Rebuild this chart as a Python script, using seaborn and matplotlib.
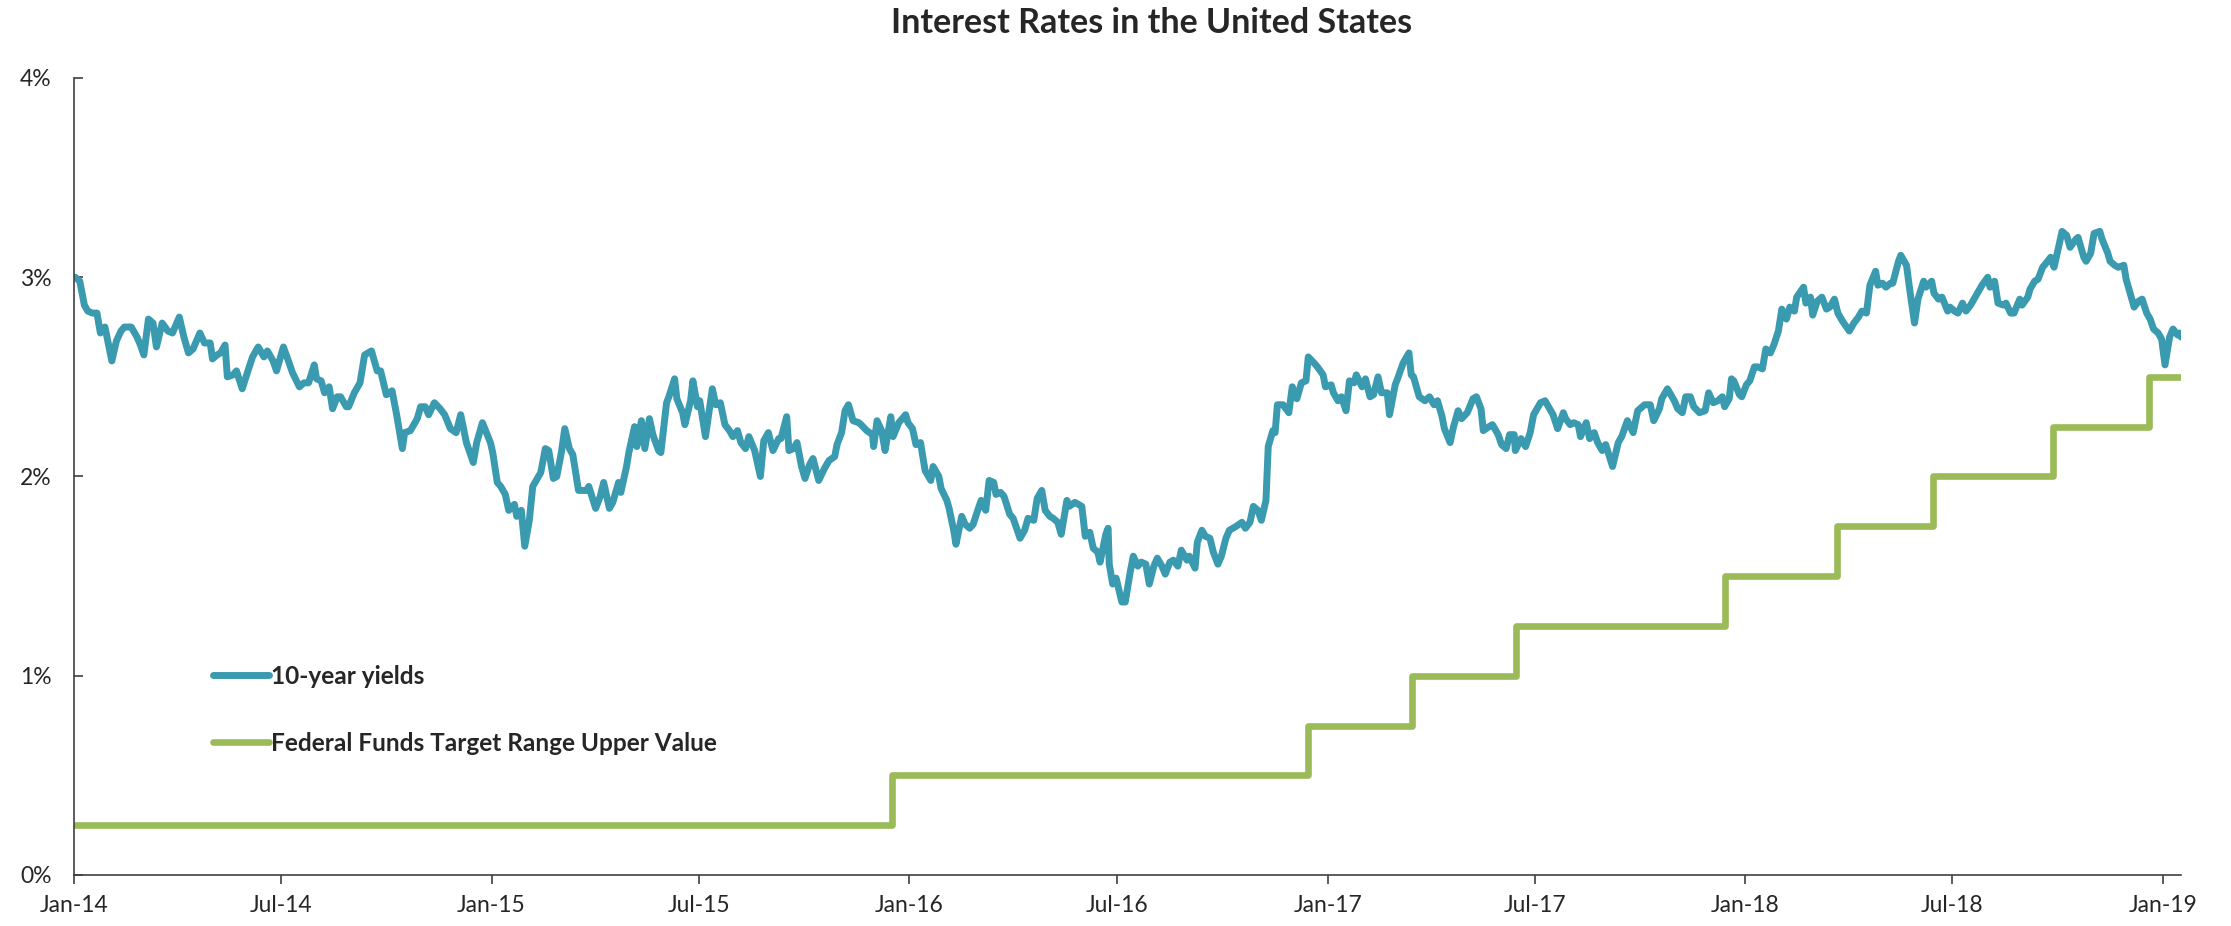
import pandas as pd
import matplotlib
matplotlib.use("Agg")
import matplotlib.pyplot as plt
import matplotlib.dates as mdates
from matplotlib.ticker import FuncFormatter
import seaborn as sns

# 10-year Treasury yield (%)
dates_2014 = ["2014-01-02", "2014-01-06", "2014-01-10", "2014-01-13", "2014-01-17", "2014-01-21", "2014-01-24", "2014-01-28",
              "2014-02-03", "2014-02-07", "2014-02-11", "2014-02-14", "2014-02-20", "2014-02-25", "2014-02-28", "2014-03-03",
              "2014-03-07", "2014-03-11", "2014-03-14", "2014-03-19", "2014-03-24", "2014-03-28", "2014-04-03", "2014-04-07",
              "2014-04-11", "2014-04-15", "2014-04-21", "2014-04-25", "2014-04-30", "2014-05-02", "2014-05-06", "2014-05-09",
              "2014-05-13", "2014-05-15", "2014-05-20", "2014-05-23", "2014-05-28", "2014-06-02", "2014-06-06", "2014-06-11",
              "2014-06-16", "2014-06-19", "2014-06-24", "2014-06-27", "2014-07-03", "2014-07-08", "2014-07-11", "2014-07-17",
              "2014-07-21", "2014-07-25", "2014-07-30", "2014-08-01", "2014-08-05", "2014-08-08", "2014-08-12", "2014-08-15",
              "2014-08-19", "2014-08-22", "2014-08-27", "2014-08-29", "2014-09-03", "2014-09-08", "2014-09-12", "2014-09-18",
              "2014-09-23", "2014-09-26", "2014-10-01", "2014-10-06", "2014-10-10", "2014-10-15", "2014-10-17", "2014-10-22",
              "2014-10-28", "2014-10-31", "2014-11-04", "2014-11-07", "2014-11-12", "2014-11-17", "2014-11-21", "2014-11-26",
              "2014-12-01", "2014-12-05", "2014-12-10", "2014-12-16", "2014-12-19", "2014-12-24", "2014-12-31"]
values_2014 = [3.00, 2.98, 2.86, 2.83, 2.82, 2.82, 2.72, 2.75,
               2.58, 2.68, 2.73, 2.75, 2.75, 2.70, 2.66, 2.61,
               2.79, 2.77, 2.65, 2.77, 2.73, 2.72, 2.80, 2.70,
               2.62, 2.64, 2.72, 2.67, 2.67, 2.59, 2.61, 2.62,
               2.66, 2.50, 2.51, 2.53, 2.44, 2.53, 2.60, 2.65,
               2.60, 2.63, 2.58, 2.53, 2.65, 2.57, 2.52, 2.45,
               2.47, 2.47, 2.56, 2.49, 2.48, 2.42, 2.45, 2.34,
               2.40, 2.40, 2.35, 2.35, 2.42, 2.47, 2.61, 2.63,
               2.53, 2.53, 2.41, 2.43, 2.31, 2.14, 2.22, 2.23,
               2.29, 2.35, 2.35, 2.31, 2.37, 2.34, 2.31, 2.24,
               2.22, 2.31, 2.17, 2.07, 2.17, 2.27, 2.17]

dates_2015 = ["2015-01-02", "2015-01-06", "2015-01-09", "2015-01-13", "2015-01-16", "2015-01-21", "2015-01-23", "2015-01-27",
              "2015-01-30", "2015-02-03", "2015-02-06", "2015-02-10", "2015-02-13", "2015-02-17", "2015-02-20", "2015-02-24",
              "2015-02-27", "2015-03-03", "2015-03-06", "2015-03-10", "2015-03-13", "2015-03-18", "2015-03-20", "2015-03-25",
              "2015-03-27", "2015-04-02", "2015-04-06", "2015-04-09", "2015-04-14", "2015-04-17", "2015-04-22", "2015-04-24",
              "2015-04-29", "2015-05-01", "2015-05-06", "2015-05-08", "2015-05-12", "2015-05-15", "2015-05-19", "2015-05-22",
              "2015-05-27", "2015-05-29", "2015-06-03", "2015-06-05", "2015-06-10", "2015-06-12", "2015-06-17", "2015-06-19",
              "2015-06-24", "2015-06-26", "2015-06-30", "2015-07-02", "2015-07-07", "2015-07-13", "2015-07-16", "2015-07-20",
              "2015-07-24", "2015-07-28", "2015-07-31", "2015-08-04", "2015-08-07", "2015-08-11", "2015-08-14", "2015-08-19",
              "2015-08-24", "2015-08-27", "2015-08-31", "2015-09-04", "2015-09-09", "2015-09-11", "2015-09-16", "2015-09-18",
              "2015-09-22", "2015-09-25", "2015-09-29", "2015-10-02", "2015-10-06", "2015-10-09", "2015-10-14", "2015-10-19",
              "2015-10-23", "2015-10-28", "2015-10-30", "2015-11-03", "2015-11-06", "2015-11-09", "2015-11-13", "2015-11-18",
              "2015-11-20", "2015-11-25", "2015-11-30", "2015-12-01", "2015-12-04", "2015-12-08", "2015-12-11", "2015-12-16",
              "2015-12-18", "2015-12-23", "2015-12-29", "2015-12-31"]
values_2015 = [2.12, 1.97, 1.95, 1.91, 1.83, 1.86, 1.80, 1.83,
               1.65, 1.78, 1.95, 1.99, 2.02, 2.14, 2.13, 1.99,
               2.00, 2.12, 2.24, 2.14, 2.11, 1.93, 1.93, 1.93,
               1.95, 1.84, 1.90, 1.97, 1.84, 1.87, 1.97, 1.92,
               2.05, 2.12, 2.25, 2.15, 2.28, 2.14, 2.29, 2.21,
               2.13, 2.12, 2.37, 2.40, 2.49, 2.39, 2.32, 2.26,
               2.38, 2.48, 2.35, 2.38, 2.20, 2.44, 2.36, 2.37,
               2.26, 2.23, 2.20, 2.23, 2.17, 2.14, 2.20, 2.13,
               2.00, 2.18, 2.22, 2.13, 2.19, 2.19, 2.30, 2.13,
               2.14, 2.17, 2.05, 1.99, 2.06, 2.09, 1.98, 2.04,
               2.08, 2.10, 2.16, 2.22, 2.33, 2.36, 2.28, 2.27,
               2.26, 2.23, 2.21, 2.15, 2.28, 2.23, 2.13, 2.30,
               2.20, 2.27, 2.31, 2.27]

dates_2016 = ["2016-01-04", "2016-01-07", "2016-01-11", "2016-01-15", "2016-01-20", "2016-01-22", "2016-01-27", "2016-01-29",
              "2016-02-03", "2016-02-05", "2016-02-09", "2016-02-11", "2016-02-16", "2016-02-19", "2016-02-23", "2016-02-26",
              "2016-03-01", "2016-03-04", "2016-03-08", "2016-03-11", "2016-03-15", "2016-03-17", "2016-03-21", "2016-03-24",
              "2016-03-29", "2016-04-01", "2016-04-07", "2016-04-11", "2016-04-14", "2016-04-19", "2016-04-22", "2016-04-26",
              "2016-04-29", "2016-05-03", "2016-05-06", "2016-05-10", "2016-05-13", "2016-05-18", "2016-05-20", "2016-05-25",
              "2016-05-31", "2016-06-03", "2016-06-07", "2016-06-10", "2016-06-14", "2016-06-16", "2016-06-21", "2016-06-23",
              "2016-06-24", "2016-06-27", "2016-06-30", "2016-07-05", "2016-07-08", "2016-07-12", "2016-07-15", "2016-07-19",
              "2016-07-22", "2016-07-26", "2016-07-29", "2016-08-02", "2016-08-05", "2016-08-09", "2016-08-12", "2016-08-16",
              "2016-08-19", "2016-08-23", "2016-08-26", "2016-08-31", "2016-09-02", "2016-09-07", "2016-09-09", "2016-09-13",
              "2016-09-16", "2016-09-20", "2016-09-23", "2016-09-27", "2016-09-30", "2016-10-04", "2016-10-07", "2016-10-13",
              "2016-10-18", "2016-10-21", "2016-10-25", "2016-10-28", "2016-11-01", "2016-11-04", "2016-11-08", "2016-11-10",
              "2016-11-14", "2016-11-16", "2016-11-18", "2016-11-23", "2016-11-28", "2016-12-01", "2016-12-05", "2016-12-09",
              "2016-12-13", "2016-12-15", "2016-12-20", "2016-12-23", "2016-12-28", "2016-12-30"]
values_2016 = [2.24, 2.16, 2.17, 2.03, 1.98, 2.05, 2.00, 1.94,
               1.88, 1.84, 1.73, 1.66, 1.80, 1.76, 1.74, 1.76,
               1.83, 1.88, 1.83, 1.98, 1.97, 1.91, 1.92, 1.90,
               1.81, 1.79, 1.69, 1.73, 1.79, 1.78, 1.89, 1.93,
               1.83, 1.80, 1.79, 1.77, 1.71, 1.88, 1.85, 1.87,
               1.85, 1.70, 1.72, 1.64, 1.62, 1.57, 1.71, 1.74,
               1.56, 1.46, 1.49, 1.37, 1.37, 1.51, 1.60, 1.55,
               1.57, 1.56, 1.46, 1.55, 1.59, 1.55, 1.51, 1.57,
               1.58, 1.55, 1.63, 1.58, 1.60, 1.54, 1.67, 1.73,
               1.70, 1.69, 1.62, 1.56, 1.60, 1.69, 1.73, 1.75,
               1.77, 1.74, 1.77, 1.85, 1.83, 1.78, 1.88, 2.15,
               2.23, 2.22, 2.36, 2.36, 2.32, 2.45, 2.39, 2.47,
               2.48, 2.60, 2.57, 2.55, 2.51, 2.45]

dates_2017 = ["2017-01-04", "2017-01-06", "2017-01-10", "2017-01-13", "2017-01-17", "2017-01-20", "2017-01-24", "2017-01-26",
              "2017-01-31", "2017-02-03", "2017-02-07", "2017-02-10", "2017-02-14", "2017-02-17", "2017-02-22", "2017-02-24",
              "2017-03-01", "2017-03-03", "2017-03-08", "2017-03-13", "2017-03-15", "2017-03-17", "2017-03-22", "2017-03-27",
              "2017-03-31", "2017-04-04", "2017-04-07", "2017-04-11", "2017-04-13", "2017-04-18", "2017-04-21", "2017-04-25",
              "2017-04-28", "2017-05-03", "2017-05-08", "2017-05-11", "2017-05-15", "2017-05-17", "2017-05-22", "2017-05-25",
              "2017-05-30", "2017-06-02", "2017-06-06", "2017-06-09", "2017-06-13", "2017-06-14", "2017-06-19", "2017-06-23",
              "2017-06-27", "2017-06-30", "2017-07-06", "2017-07-10", "2017-07-13", "2017-07-17", "2017-07-21", "2017-07-26",
              "2017-07-28", "2017-08-01", "2017-08-04", "2017-08-08", "2017-08-10", "2017-08-15", "2017-08-18", "2017-08-22",
              "2017-08-25", "2017-08-29", "2017-09-01", "2017-09-07", "2017-09-12", "2017-09-15", "2017-09-20", "2017-09-25",
              "2017-09-29", "2017-10-05", "2017-10-10", "2017-10-13", "2017-10-18", "2017-10-20", "2017-10-25", "2017-10-27",
              "2017-10-31", "2017-11-03", "2017-11-07", "2017-11-10", "2017-11-14", "2017-11-17", "2017-11-22", "2017-11-27",
              "2017-11-30", "2017-12-04", "2017-12-08", "2017-12-12", "2017-12-14", "2017-12-18", "2017-12-20", "2017-12-22",
              "2017-12-27", "2017-12-29"]
values_2017 = [2.46, 2.42, 2.38, 2.40, 2.33, 2.48, 2.47, 2.51,
               2.45, 2.49, 2.40, 2.41, 2.50, 2.42, 2.42, 2.31,
               2.46, 2.49, 2.57, 2.62, 2.51, 2.50, 2.40, 2.38,
               2.40, 2.36, 2.38, 2.30, 2.24, 2.17, 2.25, 2.33,
               2.29, 2.32, 2.39, 2.40, 2.34, 2.23, 2.25, 2.26,
               2.21, 2.16, 2.14, 2.21, 2.21, 2.13, 2.19, 2.15,
               2.22, 2.31, 2.37, 2.38, 2.35, 2.31, 2.24, 2.32,
               2.29, 2.26, 2.27, 2.26, 2.20, 2.27, 2.19, 2.22,
               2.17, 2.13, 2.16, 2.05, 2.17, 2.20, 2.28, 2.22,
               2.33, 2.36, 2.36, 2.28, 2.34, 2.39, 2.44, 2.42,
               2.38, 2.34, 2.32, 2.40, 2.40, 2.35, 2.32, 2.33,
               2.42, 2.37, 2.38, 2.40, 2.35, 2.39, 2.49, 2.48,
               2.41, 2.40]

dates_2018 = ["2018-01-02", "2018-01-05", "2018-01-09", "2018-01-12", "2018-01-16", "2018-01-19", "2018-01-23", "2018-01-26",
              "2018-01-30", "2018-02-02", "2018-02-06", "2018-02-09", "2018-02-13", "2018-02-15", "2018-02-21", "2018-02-23",
              "2018-02-27", "2018-03-01", "2018-03-05", "2018-03-09", "2018-03-13", "2018-03-16", "2018-03-20", "2018-03-23",
              "2018-03-27", "2018-04-02", "2018-04-06", "2018-04-10", "2018-04-13", "2018-04-17", "2018-04-20", "2018-04-25",
              "2018-04-27", "2018-05-01", "2018-05-04", "2018-05-08", "2018-05-10", "2018-05-15", "2018-05-17", "2018-05-22",
              "2018-05-25", "2018-05-29", "2018-06-01", "2018-06-06", "2018-06-08", "2018-06-13", "2018-06-15", "2018-06-19",
              "2018-06-22", "2018-06-27", "2018-06-29", "2018-07-03", "2018-07-06", "2018-07-10", "2018-07-13", "2018-07-17",
              "2018-07-20", "2018-07-25", "2018-07-27", "2018-08-01", "2018-08-03", "2018-08-07", "2018-08-10", "2018-08-15",
              "2018-08-17", "2018-08-21", "2018-08-24", "2018-08-29", "2018-08-31", "2018-09-05", "2018-09-07", "2018-09-11",
              "2018-09-14", "2018-09-18", "2018-09-21", "2018-09-25", "2018-09-28", "2018-10-03", "2018-10-05", "2018-10-09",
              "2018-10-12", "2018-10-17", "2018-10-19", "2018-10-24", "2018-10-26", "2018-10-30", "2018-11-02", "2018-11-07",
              "2018-11-09", "2018-11-14", "2018-11-16", "2018-11-20", "2018-11-23", "2018-11-28", "2018-11-30", "2018-12-04",
              "2018-12-07", "2018-12-11", "2018-12-14", "2018-12-18", "2018-12-21", "2018-12-24", "2018-12-28", "2018-12-31",
              "2019-01-03", "2019-01-07", "2019-01-10", "2019-01-14", "2019-01-16", "2019-01-17"]
values_2018 = [2.46, 2.48, 2.55, 2.55, 2.54, 2.64, 2.62, 2.66,
               2.73, 2.84, 2.79, 2.85, 2.83, 2.90, 2.95, 2.87,
               2.90, 2.81, 2.88, 2.90, 2.84, 2.85, 2.89, 2.82,
               2.78, 2.73, 2.77, 2.80, 2.83, 2.82, 2.96, 3.03,
               2.96, 2.97, 2.95, 2.97, 2.97, 3.08, 3.11, 3.06,
               2.93, 2.77, 2.89, 2.98, 2.95, 2.98, 2.92, 2.89,
               2.90, 2.83, 2.85, 2.83, 2.82, 2.87, 2.83, 2.86,
               2.89, 2.94, 2.96, 3.00, 2.95, 2.98, 2.87, 2.86,
               2.87, 2.82, 2.82, 2.89, 2.86, 2.90, 2.94, 2.98,
               2.99, 3.05, 3.07, 3.10, 3.05, 3.18, 3.23, 3.21,
               3.15, 3.19, 3.20, 3.10, 3.08, 3.12, 3.22, 3.23,
               3.19, 3.12, 3.08, 3.06, 3.05, 3.06, 2.99, 2.91,
               2.85, 2.88, 2.89, 2.82, 2.79, 2.74, 2.72, 2.69,
               2.56, 2.70, 2.74, 2.71, 2.72, 2.70]

# Federal funds target range, upper bound (%), value from each change date
fed_dates = ["2014-01-02", "2015-12-17", "2016-12-15", "2017-03-16", "2017-06-15", "2017-12-14",
             "2018-03-22", "2018-06-14", "2018-09-27", "2018-12-20", "2019-01-17"]
fed_values = [0.25, 0.50, 0.75, 1.00, 1.25, 1.50, 1.75, 2.00, 2.25, 2.50, 2.50]

y_ticks = [0, 1, 2, 3, 4]
title = "Interest Rates in the United States"
label_yield = "10-year yields"
label_fed = "Federal Funds Target Range Upper Value"

yields = pd.DataFrame({
    "date": pd.to_datetime(dates_2014 + dates_2015 + dates_2016 + dates_2017 + dates_2018),
    "rate": values_2014 + values_2015 + values_2016 + values_2017 + values_2018,
})
fed = pd.DataFrame({"date": pd.to_datetime(fed_dates), "rate": fed_values})

sns.set_theme(style="white")
plt.rcParams["font.family"] = ["Lato", "DejaVu Sans"]
text_color = "#262626"

fig = plt.figure(figsize=(22.31, 9.26), dpi=100)
ax = fig.add_axes([0.0332, 0.0551, 0.9444, 0.8607])

sns.lineplot(data=yields, x="date", y="rate", ax=ax, color="#3A9AAF", linewidth=5,
             label=label_yield, solid_joinstyle="round", solid_capstyle="round")
sns.lineplot(data=fed, x="date", y="rate", ax=ax, color="#9BBB59", linewidth=4.8,
             drawstyle="steps-post", label=label_fed, solid_capstyle="round")

ax.set_xlim(pd.Timestamp("2014-01-01"), pd.Timestamp("2019-01-17"))
ax.set_ylim(0, 4)
ax.set_yticks(y_ticks)
ax.yaxis.set_major_formatter(FuncFormatter(lambda v, _: f"{v:.0f}%"))
ax.set_xticks(pd.date_range("2014-01-01", "2019-01-01", freq="6MS"))
ax.xaxis.set_major_formatter(mdates.DateFormatter("%b-%y"))
ax.set_xlabel("")
ax.set_ylabel("")

for side in ["top", "right"]:
    ax.spines[side].set_visible(False)
for side in ["left", "bottom"]:
    ax.spines[side].set_color("#404040")
    ax.spines[side].set_linewidth(1.2)

ax.tick_params(axis="y", direction="in", length=6.5, width=1.2, color="#404040",
               labelsize=16.5, labelcolor=text_color, pad=16, left=True)
ax.tick_params(axis="x", direction="out", length=6.5, width=1.2, color="#404040",
               labelsize=16.5, labelcolor=text_color, pad=8, bottom=True)

leg = ax.legend(loc="center left", bbox_to_anchor=(0.060, 0.207), frameon=False,
                handlelength=2.3, handletextpad=0.1, labelspacing=1.8, borderpad=0,
                prop={"weight": "bold", "size": 17.6})
for t in leg.get_texts():
    t.set_color(text_color)

fig.text(0.516, 0.975, title, ha="center", va="center", fontsize=24.5,
         fontweight="bold", color=text_color)

fig.savefig("out.png", dpi=100)
